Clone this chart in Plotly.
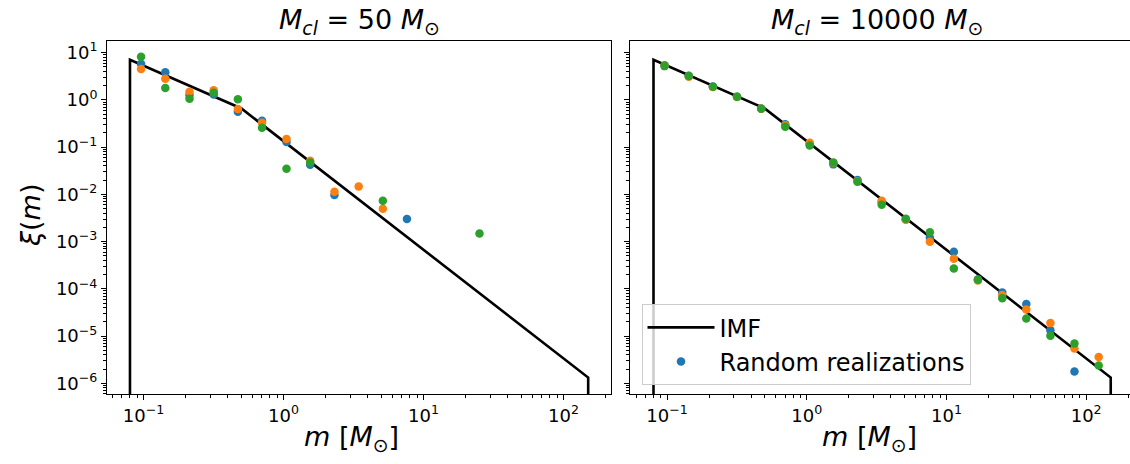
import plotly.graph_objects as go

# ---------------- data ----------------
imf_m = [0.08, 0.08, 0.5, 150, 150]
imf_xi = [1e-8, 7.1, 0.66, 1.32e-6, 1e-8]

# left panel: M_cl = 50 Msun
l_blue_m = [0.096, 0.143, 0.213, 0.317, 0.472, 0.702, 1.05, 1.55, 2.31, 7.61]
l_blue_xi = [5.8, 3.85, 1.27, 1.31, 0.56, 0.362, 0.128, 0.0424, 0.00966, 0.0030]
l_orange_m = [0.096, 0.143, 0.213, 0.317, 0.472, 0.702, 1.05, 1.55, 2.31, 3.44, 5.12]
l_orange_xi = [4.5, 2.8, 1.49, 1.6, 0.64, 0.329, 0.149, 0.0515, 0.01135, 0.01476, 0.00495]
l_green_m = [0.096, 0.143, 0.213, 0.317, 0.472, 0.702, 1.05, 1.55, 5.12, 25.1]
l_green_xi = [8.2, 1.79, 1.06, 1.42, 1.03, 0.258, 0.0348, 0.0476, 0.00731, 0.00149]

# right panel: M_cl = 10000 Msun
r_m = [0.096, 0.143, 0.213, 0.317, 0.472, 0.702, 1.05, 1.55, 2.31, 3.44,
       5.12, 7.61, 11.3, 16.8, 25.1, 37.3, 55.5, 82.5, 123]
r_blue_xi = [5.4, 3.25, 1.92, 1.17, 0.66, 0.304, 0.118, 0.0432, 0.0201, 0.0068,
             0.00295, 0.0012, 0.00061, 0.000158, 8.4e-5, 4.8e-5, 1.33e-5, 1.78e-6]
r_orange_xi = [5.3, 3.1, 1.88, 1.15, 0.65, 0.29, 0.124, 0.046, 0.019, 0.0073,
               0.0029, 0.00099, 0.000432, 0.00015, 7.4e-5, 3.65e-5, 1.9e-5, 5.45e-6, 3.6e-6]
r_green_xi = [5.2, 3.2, 1.9, 1.17, 0.65, 0.27, 0.109, 0.0476, 0.0185, 0.0060,
              0.00306, 0.00157, 0.00027, 0.000155, 6.3e-5, 2.36e-5, 1.01e-5, 6.97e-6, 2.38e-6]

titles = ["<i>M</i><sub><i>cl</i></sub> = 50 <i>M</i><sub>⊙</sub>",
          "<i>M</i><sub><i>cl</i></sub> = 10000 <i>M</i><sub>⊙</sub>"]
y_ticks = [10, 1, 0.1, 0.01, 0.001, 1e-4, 1e-5, 1e-6]
y_ticktext = ["10<sup>1</sup>", "10<sup>0</sup>", "10<sup>−1</sup>", "10<sup>−2</sup>",
              "10<sup>−3</sup>", "10<sup>−4</sup>", "10<sup>−5</sup>", "10<sup>−6</sup>"]
x_ticks = [0.1, 1, 10, 100]
x_ticktext = ["10<sup>−1</sup>", "10<sup>0</sup>", "10<sup>1</sup>", "10<sup>2</sup>"]

BLUE, ORANGE, GREEN = "#1f77b4", "#ff7f0e", "#2ca02c"
FONT = "DejaVu Sans"

fig = go.Figure()

def add_panel(xa, ya, series, legend):
    fig.add_trace(go.Scatter(x=imf_m, y=imf_xi, mode="lines", name="IMF",
                             line=dict(color="black", width=2.6),
                             xaxis=xa, yaxis=ya, showlegend=legend))
    for i, (mm, yy, col) in enumerate(series):
        fig.add_trace(go.Scatter(x=mm, y=yy, mode="markers", name="Random realizations",
                                 marker=dict(color=col, size=8.5, line=dict(width=0)),
                                 xaxis=xa, yaxis=ya, showlegend=(legend and i == 0)))

add_panel("x", "y", [(l_blue_m, l_blue_xi, BLUE), (l_orange_m, l_orange_xi, ORANGE),
                     (l_green_m, l_green_xi, GREEN)], False)
add_panel("x2", "y2", [(r_m[:len(r_blue_xi)], r_blue_xi, BLUE), (r_m, r_orange_xi, ORANGE),
                       (r_m, r_green_xi, GREEN)], True)

minor_y = [d * 10 ** k for k in range(-7, 2) for d in range(2, 10)]
minor_x = [d * 10 ** k for k in range(-2, 3) for d in range(2, 10)]

axis_common = dict(type="log", showgrid=False, zeroline=False, showline=True,
                   linecolor="black", linewidth=1, mirror=True, ticks="outside",
                   ticklen=5, tickwidth=1, tickcolor="black",
                   tickfont=dict(family=FONT, size=18, color="black"))

W, H = 1130, 464
L, R, T, B = 107, 0, 41, 70
pw = W - L - R
fig.update_layout(
    width=W, height=H, margin=dict(l=L, r=R, t=T, b=B),
    plot_bgcolor="white", paper_bgcolor="white",
    font=dict(family=FONT, color="black"),
    xaxis=dict(axis_common, domain=[0, 504 / pw], range=[-1.261, 2.339],
               tickvals=x_ticks, ticktext=x_ticktext, anchor="y",
               minor=dict(tickvals=minor_x, ticks="outside", ticklen=3, tickcolor="black", showgrid=False)),
    yaxis=dict(axis_common, domain=[0, 1], range=[-6.227, 1.248],
               tickvals=y_ticks, ticktext=y_ticktext, anchor="x",
               minor=dict(tickvals=minor_y, ticks="outside", ticklen=3, tickcolor="black", showgrid=False)),
    xaxis2=dict(axis_common, domain=[(630.3 - L) / pw, 1], range=[-1.263, 2.314],
                tickvals=x_ticks, ticktext=x_ticktext, anchor="y2",
                minor=dict(tickvals=minor_x, ticks="outside", ticklen=3, tickcolor="black", showgrid=False)),
    yaxis2=dict(axis_common, domain=[0, 1], range=[-6.227, 1.248],
                tickvals=y_ticks, ticktext=[""] * len(y_ticks), anchor="x2",
                minor=dict(tickvals=minor_y, ticks="outside", ticklen=3, tickcolor="black", showgrid=False)),
    legend=dict(x=(641.5 - L) / pw, y=(394 - 304.3) / (H - T - B), xanchor="left", yanchor="top",
                bgcolor="rgba(255,255,255,0.8)", bordercolor="#cccccc", borderwidth=1,
                font=dict(family=FONT, size=24, color="black"), itemwidth=67,
                tracegroupgap=0),
    showlegend=True,
)

def px_x(px):
    return (px - L) / pw

def px_y(py):
    return (H - B - py) / (H - T - B)

ann = []
for cx, t in [((107 + 611) / 2, titles[0]), ((630.3 + 1130) / 2 - 3, titles[1])]:
    ann.append(dict(x=px_x(cx), y=px_y(21), xref="paper", yref="paper", text=t,
                    showarrow=False, xanchor="center", yanchor="middle",
                    font=dict(family=FONT, size=27, color="black")))
    ann.append(dict(x=px_x(cx - 8), y=px_y(439), xref="paper", yref="paper",
                    text="<i>m</i> [<i>M</i><sub>⊙</sub>]",
                    showarrow=False, xanchor="center", yanchor="middle",
                    font=dict(family=FONT, size=27, color="black")))
ann.append(dict(x=px_x(30), y=px_y(216), xref="paper", yref="paper",
                text="<i>ξ</i>(<i>m</i>)", textangle=-90,
                showarrow=False, xanchor="center", yanchor="middle",
                font=dict(family=FONT, size=27, color="black")))
fig.update_layout(annotations=ann)

fig.write_html("out.html")
